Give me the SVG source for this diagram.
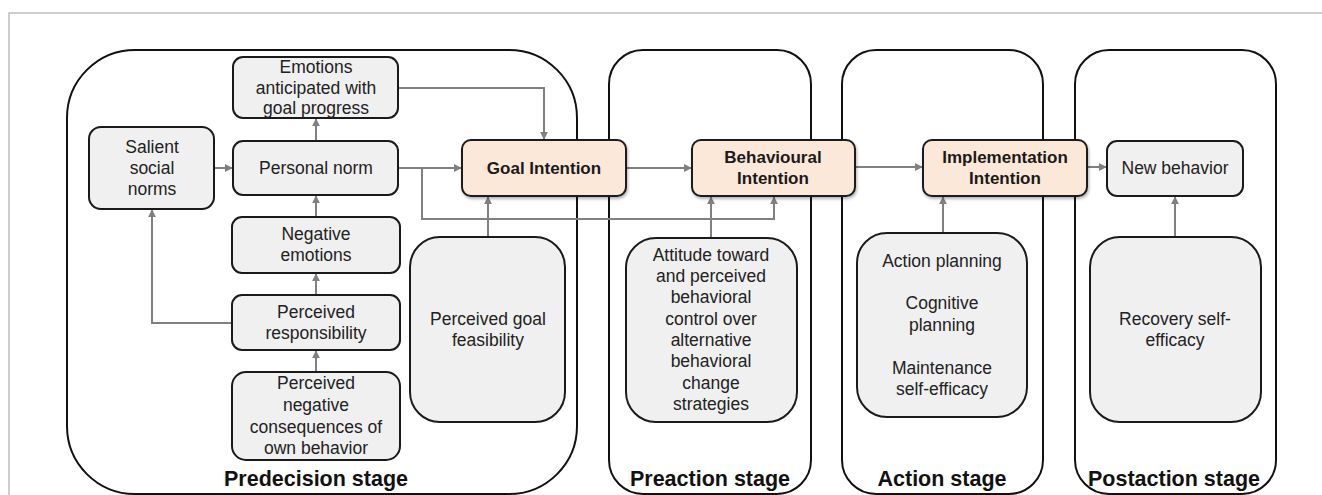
<svg xmlns="http://www.w3.org/2000/svg" width="1322" height="495" viewBox="0 0 1322 495">
<defs>
<style>
.stage{fill:none;stroke:#111;stroke-width:2}
.box{fill:#f0f0f0;stroke:#1a1a1a;stroke-width:2}
.key{fill:#fce8d9;stroke:#1a1a1a;stroke-width:2;filter:url(#sh)}
.t{font-family:"Liberation Sans",Arial,sans-serif;font-size:17.5px;fill:#222;text-anchor:middle}
.b{font-family:"Liberation Sans",Arial,sans-serif;font-size:17px;font-weight:bold;fill:#1a1a1a;text-anchor:middle}
.s{font-family:"Liberation Sans",Arial,sans-serif;font-size:21.5px;font-weight:bold;fill:#111;text-anchor:middle}
.c{fill:none;stroke:#808080;stroke-width:2;marker-end:url(#ah)}
</style>
<marker id="ah" viewBox="0 0 10 10" refX="9" refY="5" markerWidth="4" markerHeight="4" orient="auto" markerUnits="strokeWidth">
<path d="M0,0 L10,5 L0,10 z" fill="#808080"/>
</marker>
<filter id="sh" x="-10%" y="-20%" width="120%" height="150%">
<feDropShadow dx="1" dy="2" stdDeviation="1.5" flood-color="#000" flood-opacity="0.3"/>
</filter>
</defs>
<rect width="1322" height="495" fill="#fff"/>
<path d="M9,495 V13 H1322" fill="none" stroke="#bdbdbd" stroke-width="1.5"/>

<g id="stages">
<g id="stage-predecision"><rect class="stage" x="67" y="50" width="510" height="444" rx="68" ry="68"/><text class="s" x="316" y="486">Predecision stage</text></g>
<g id="stage-preaction"><rect class="stage" x="609" y="50" width="202" height="444" rx="34" ry="34"/><text class="s" x="710" y="486">Preaction stage</text></g>
<g id="stage-action"><rect class="stage" x="842" y="50" width="201" height="444" rx="34" ry="34"/><text class="s" x="942" y="486">Action stage</text></g>
<g id="stage-postaction"><rect class="stage" x="1075" y="50" width="201" height="444" rx="34" ry="34"/><text class="s" x="1174" y="486">Postaction stage</text></g>
</g>

<g id="connectors">
<path class="c" d="M214,168 H232"/>
<path class="c" d="M316,141 V119"/>
<path class="c" d="M316,217 V196"/>
<path class="c" d="M316,295 V274"/>
<path class="c" d="M316,372 V351"/>
<path class="c" d="M232,323 H152 V210"/>
<path class="c" d="M398,88 H544 V139"/>
<path class="c" d="M398,168 H461"/>
<path class="c" d="M422,168 V219 H774 V197"/>
<path class="c" d="M488,237 V197"/>
<path class="c" d="M626,168 H691"/>
<path class="c" d="M711,238 V197"/>
<path class="c" d="M855,167 H922"/>
<path class="c" d="M943,233 V197"/>
<path class="c" d="M1087,167 H1106"/>
<path class="c" d="M1175,237 V197"/>
</g>

<g id="n-emotions"><rect class="box" x="233" y="57" width="165" height="61" rx="10"/>
<text class="t" x="316" y="73">Emotions</text><text class="t" x="316" y="94">anticipated with</text><text class="t" x="316" y="114">goal progress</text></g>
<g id="n-salient"><rect class="box" x="89" y="127" width="125" height="82" rx="12"/>
<text class="t" x="152" y="153">Salient</text><text class="t" x="152" y="174">social</text><text class="t" x="152" y="195">norms</text></g>
<g id="n-personal"><rect class="box" x="233" y="141" width="165" height="54" rx="10"/>
<text class="t" x="316" y="174">Personal norm</text></g>
<g id="n-negemo"><rect class="box" x="232" y="217" width="168" height="56" rx="10"/>
<text class="t" x="316" y="240">Negative</text><text class="t" x="316" y="261">emotions</text></g>
<g id="n-resp"><rect class="box" x="232" y="295" width="168" height="55" rx="10"/>
<text class="t" x="316" y="318">Perceived</text><text class="t" x="316" y="339">responsibility</text></g>
<g id="n-conseq"><rect class="box" x="232" y="372" width="168" height="88" rx="14"/>
<text class="t" x="316" y="389">Perceived</text><text class="t" x="316" y="411">negative</text><text class="t" x="316" y="433">consequences of</text><text class="t" x="316" y="454">own behavior</text></g>
<g id="n-feas"><rect class="box" x="410" y="237" width="155" height="185" rx="30"/>
<text class="t" x="488" y="325">Perceived goal</text><text class="t" x="488" y="346">feasibility</text></g>
<g id="n-goal"><rect class="key" x="462" y="140" width="164" height="56" rx="9"/>
<text class="b" x="544" y="174">Goal Intention</text></g>
<g id="n-behav"><rect class="key" x="692" y="140" width="163" height="56" rx="9"/>
<text class="b" x="773" y="163">Behavioural</text><text class="b" x="773" y="184">Intention</text></g>
<g id="n-attitude"><rect class="box" x="626" y="238" width="171" height="184" rx="30"/>
<text class="t" x="711" y="261">Attitude toward</text><text class="t" x="711" y="282">and perceived</text><text class="t" x="711" y="303">behavioral</text><text class="t" x="711" y="325">control over</text><text class="t" x="711" y="346">alternative</text><text class="t" x="711" y="367">behavioral</text><text class="t" x="711" y="389">change</text><text class="t" x="711" y="410">strategies</text></g>
<g id="n-impl"><rect class="key" x="923" y="140" width="164" height="56" rx="9"/>
<text class="b" x="1005" y="163">Implementation</text><text class="b" x="1005" y="184">Intention</text></g>
<g id="n-action"><rect class="box" x="857" y="233" width="170" height="184" rx="30"/>
<text class="t" x="942" y="267">Action planning</text><text class="t" x="942" y="309">Cognitive</text><text class="t" x="942" y="331">planning</text><text class="t" x="942" y="374">Maintenance</text><text class="t" x="942" y="395">self-efficacy</text></g>
<g id="n-new"><rect class="box" x="1107" y="141" width="136" height="55" rx="10"/>
<text class="t" x="1175" y="174">New behavior</text></g>
<g id="n-recovery"><rect class="box" x="1090" y="237" width="171" height="185" rx="30"/>
<text class="t" x="1175" y="325">Recovery self-</text><text class="t" x="1175" y="346">efficacy</text></g>
</svg>
